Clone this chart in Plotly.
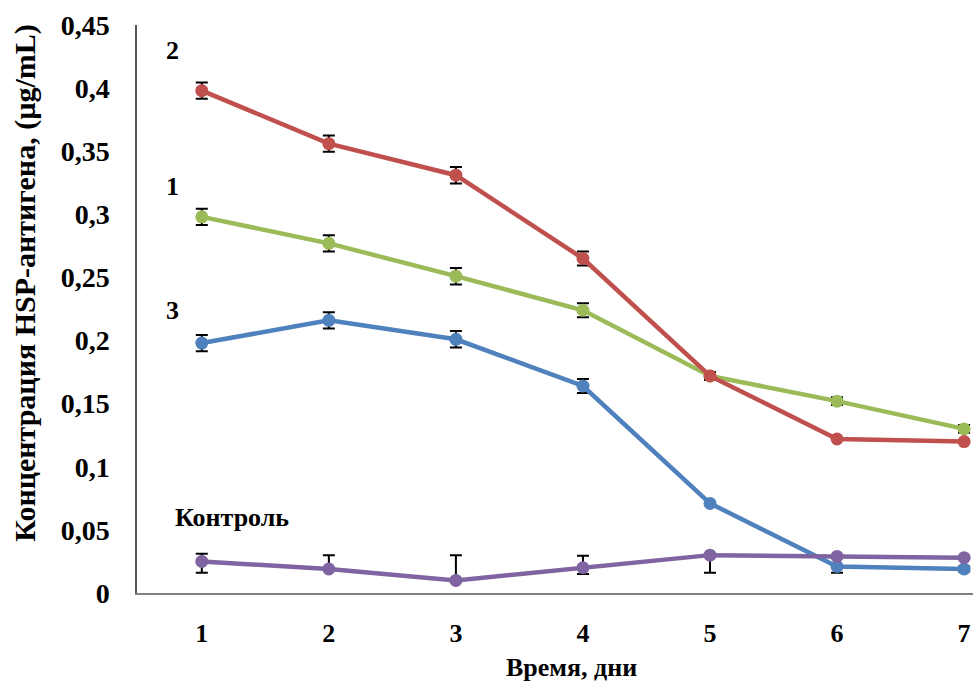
import plotly.graph_objects as go

days = [1, 2, 3, 4, 5, 6, 7]

s2_vals = [0.398, 0.356, 0.331, 0.265, 0.172, 0.122, 0.120]
s1_vals = [0.298, 0.277, 0.251, 0.224, 0.172, 0.152, 0.130]
s3_vals = [0.198, 0.216, 0.201, 0.164, 0.071, 0.021, 0.019]
ctrl_vals = [0.025, 0.019, 0.010, 0.020, 0.030, 0.029, 0.028]

s2_err_plus = [0.0065, 0.0065, 0.0065, 0.0055, 0.003, 0.0, 0.0]
s2_err_minus = [0.0065, 0.0065, 0.0065, 0.0055, 0.003, 0.0, 0.0]
s1_err_plus = [0.0065, 0.0065, 0.0065, 0.0055, 0.003, 0.003, 0.003]
s1_err_minus = [0.0065, 0.0065, 0.0065, 0.0055, 0.003, 0.003, 0.003]
s3_err_plus = [0.0065, 0.0065, 0.0065, 0.0055, 0.0, 0.0, 0.002]
s3_err_minus = [0.0065, 0.0065, 0.0065, 0.0055, 0.0, 0.005, 0.002]
ctrl_err_plus = [0.006, 0.011, 0.020, 0.0095, 0.0, 0.0, 0.0]
ctrl_err_minus = [0.009, 0.0, 0.0, 0.005, 0.014, 0.0, 0.0]

colors = {"2": "#C0504D", "1": "#9BBB59", "3": "#4F81BD", "Контроль": "#8064A2"}

y_ticks = [0, 0.05, 0.1, 0.15, 0.2, 0.25, 0.3, 0.35, 0.4, 0.45]
y_tick_text = ["0", "0,05", "0,1", "0,15", "0,2", "0,25", "0,3", "0,35", "0,4", "0,45"]

FONT = "Liberation Serif"

fig = go.Figure()
data = [
    ("1", s1_vals, s1_err_plus, s1_err_minus),
    ("2", s2_vals, s2_err_plus, s2_err_minus),
    ("3", s3_vals, s3_err_plus, s3_err_minus),
    ("Контроль", ctrl_vals, ctrl_err_plus, ctrl_err_minus),
]
for name, vals, ep, em in data:
    fig.add_trace(go.Scatter(
        x=days, y=vals, name=name, mode="lines+markers",
        line=dict(color=colors[name], width=4.5),
        marker=dict(color=colors[name], size=13),
        error_y=dict(type="data", array=ep, arrayminus=em, symmetric=False,
                     color="black", thickness=2, width=6),
        showlegend=False,
        cliponaxis=False,
    ))

label_pos = [
    ("2", 0.77, 0.430),
    ("1", 0.77, 0.322),
    ("3", 0.77, 0.224),
    ("Контроль", 1.24, 0.060),
]
for txt, lx, ly in label_pos:
    fig.add_annotation(x=lx, y=ly, xref="x", yref="y", text=f"<b>{txt}</b>",
                       showarrow=False, xanchor="center", yanchor="middle",
                       font=dict(family=FONT, size=26, color="black"))

fig.add_annotation(x=-0.134, y=0.546, xref="paper", yref="paper",
                   text="<b>Концентрация HSP-антигена, (µg/mL)</b>", textangle=-90,
                   showarrow=False, xanchor="center", yanchor="middle",
                   font=dict(family=FONT, size=30, color="black"))
fig.add_annotation(x=0.52, y=-0.132, xref="paper", yref="paper",
                   text="<b>Время, дни</b>",
                   showarrow=False, xanchor="center", yanchor="middle",
                   font=dict(family=FONT, size=26, color="black"))

fig.update_layout(
    width=973, height=683,
    margin=dict(l=137, r=0, t=25, b=90),
    paper_bgcolor="white", plot_bgcolor="white",
    font=dict(family=FONT, color="black"),
    xaxis=dict(range=[0.49, 7.07], tickvals=days, ticktext=[f"<b>{d}</b>" for d in days],
               showgrid=False, zeroline=False, showline=True, linecolor="#808080",
               linewidth=2, ticks="", ticklabelstandoff=16,
               tickfont=dict(family=FONT, size=26, color="black")),
    yaxis=dict(range=[0, 0.45], tickvals=y_ticks,
               ticktext=[f"<b>{t}</b>" for t in y_tick_text],
               showgrid=False, zeroline=False, showline=True, linecolor="#555555",
               linewidth=1.5, ticks="", ticklabelstandoff=20,
               tickfont=dict(family=FONT, size=28, color="black")),
)

fig.write_html(
    "out.html",
    config={"displayModeBar": False},
    post_script="document.body.style.margin='0';document.body.style.overflow='hidden';",
)
